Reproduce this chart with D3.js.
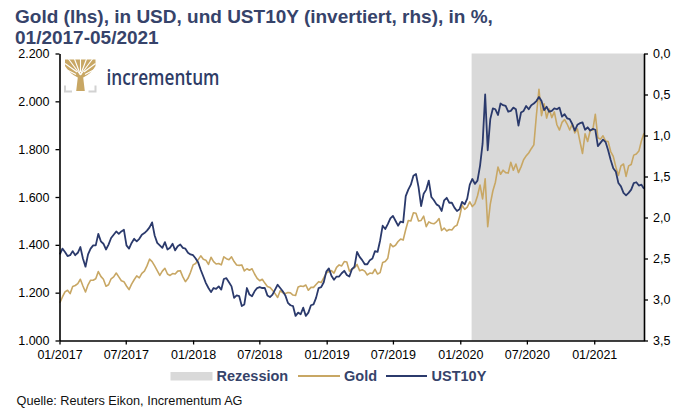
<!DOCTYPE html>
<html><head><meta charset="utf-8">
<script src="https://cdn.jsdelivr.net/npm/d3@7"></script>
<style>
html,body{margin:0;padding:0;background:#fff;}
svg{display:block;font-family:"Liberation Sans",Arial,Helvetica,sans-serif;}
</style>
</head><body>
<svg id="chart" width="687" height="412"></svg>
<script>
// ---------------- data ----------------
const titleLines = ["Gold (lhs), in USD, und UST10Y (invertiert, rhs), in %,", "01/2017-05/2021"];
const legendLabels = ["Rezession", "Gold", "UST10Y"];
const sourceText = "Quelle: Reuters Eikon, Incrementum AG";
const logoText = "incrementum";

const firstWeek = "2017-01-02";          // weekly observations (Mondays)
const xDomain = ["2017-01-01", "2021-05-17"];
const recession = ["2020-02-01", "2021-05-17"];
const xTicks = ["2017-01-01","2017-07-01","2018-01-01","2018-07-01","2019-01-01","2019-07-01","2020-01-01","2020-07-01","2021-01-01"];
const leftTicks = [1000, 1200, 1400, 1600, 1800, 2000, 2200];
const rightTicks = [0, 0.5, 1, 1.5, 2, 2.5, 3, 3.5];

// Gold, USD/oz, weekly
const gold2017 = [1158,1182,1203,1210,1196, 1226,1230,1238,1256, 1228,1203,1233,1252, 1252,1258,1288,1268,
  1256,1227,1233,1258,1266, 1282,1266,1250,1246, 1228,1213,1236,1254,1270, 1262,1281,1290,1312,
  1340,1330,1312,1292, 1272,1290,1302,1278,1272, 1280,1278,1290,1292, 1266,1246,1260,1285];
const gold2018 = [1316,1322,1338,1354,1340, 1336,1318,1348,1330, 1320,1322,1316,1350, 1342,1338,1350,1330,1316,
  1314,1316,1291,1300, 1294,1300,1278,1260, 1250,1256,1240,1226,1222, 1210,1196,1180,1208,
  1200,1196,1201,1199, 1190,1188,1224,1228,1226, 1232,1210,1222,1222, 1234,1246,1242,1262,1282];
const gold2019 = [1288,1292,1282,1306, 1316,1312,1330,1328, 1290,1298,1304,1318, 1292,1296,1290,1274,1282,
  1280,1298,1278,1284, 1326,1330,1344,1404, 1392,1398,1414,1424,1420, 1464,1502,1500,1534,
  1532,1500,1502,1520,1476, 1496,1490,1488,1496, 1510,1460,1470,1458, 1464,1462,1476,1482,1516];
const gold2020 = [1566,1548,1558,1580, 1560,1572,1604,1650, 1592,1676,1476,1570,1625, 1662,1725,1695,1712,
  1702,1700,1745,1712, 1738,1702,1726,1756,1772, 1784,1802,1818,1942, 2050,1940,1990,1930,1968,
  1932,1956,1902,1880, 1912,1924,1905,1880, 1905,1868,1885,1832,1782, 1864,1832,1878,1880];
const gold2021 = [1946,1848,1842,1856, 1834,1832,1790,1770, 1726,1690,1730,1738,1686, 1730,1736,1775,1780, 1792,1835,1866];

// UST 10Y yield, %, weekly
const ust2017 = [2.45,2.38,2.42,2.47,2.46, 2.41,2.46,2.43,2.36, 2.50,2.60,2.45,2.38, 2.34,2.34,2.20,2.29,
  2.32,2.39,2.33,2.25,2.21, 2.17,2.20,2.17,2.15, 2.34,2.38,2.31,2.26,2.29, 2.26,2.21,2.19,2.16,
  2.12,2.06,2.22,2.31, 2.34,2.37,2.30,2.39,2.37, 2.32,2.40,2.35,2.33, 2.37,2.38,2.43,2.45];
const ust2018 = [2.46,2.50,2.55,2.64,2.72, 2.80,2.86,2.91,2.86, 2.87,2.84,2.88,2.75, 2.74,2.79,2.84,2.98,2.95,
  2.96,3.08,3.06,2.86, 2.94,2.96,2.90,2.86, 2.85,2.86,2.86,2.95,2.97, 2.94,2.88,2.82,2.86,
  2.90,2.95,3.04,3.07, 3.08,3.20,3.16,3.18,3.10, 3.20,3.16,3.07,3.06, 2.98,2.86,2.85,2.79,2.66];
const ust2019 = [2.62,2.71,2.76,2.72, 2.72,2.68,2.65,2.70, 2.72,2.63,2.60,2.42, 2.48,2.52,2.57,2.57,2.52,
  2.50,2.41,2.42,2.28, 2.10,2.14,2.08,2.01, 1.98,2.04,2.10,2.05,2.06, 1.74,1.66,1.60,1.49,
  1.47,1.63,1.86,1.71,1.66, 1.55,1.75,1.79,1.84, 1.86,1.92,1.79,1.76, 1.82,1.82,1.88,1.92,1.90];
const ust2020 = [1.81,1.84,1.77,1.60, 1.53,1.59,1.55,1.37, 1.10,0.50,1.18,0.80,0.67, 0.68,0.75,0.61,0.63,
  0.64,0.71,0.70,0.66, 0.68,0.88,0.72,0.70,0.64, 0.68,0.63,0.61,0.58, 0.53,0.58,0.69,0.65,0.71,
  0.70,0.67,0.68,0.66, 0.77,0.74,0.79,0.80, 0.86,0.94,0.87,0.85,0.84, 0.93,0.90,0.94,0.92];
const ust2021 = [0.93,1.13,1.09,1.05, 1.08,1.18,1.30,1.40, 1.44,1.58,1.62,1.70,1.73, 1.70,1.66,1.58,1.57, 1.61,1.60,1.65];

// ---------------- drawing ----------------
const parse = d3.utcParse("%Y-%m-%d");
const goldValues = [].concat(gold2017, gold2018, gold2019, gold2020, gold2021);
const ustValues = [].concat(ust2017, ust2018, ust2019, ust2020, ust2021);
const start = parse(firstWeek);
const dates = goldValues.map((_, i) => d3.utcDay.offset(start, 7 * i));

const colGold = "#c8a764", colNavy = "#2b3a6c", colGrey = "#d9d9d9", colText = "#36436a";
const L = 59.5, R = 644, T = 53.5, B = 340.5;

const x = d3.scaleUtc().domain(xDomain.map(parse)).range([L, R]);
const yL = d3.scaleLinear().domain([1000, 2200]).range([B, T]);
const yR = d3.scaleLinear().domain([0, 3.5]).range([T, B]);

const de = d3.formatLocale({decimal: ",", thousands: ".", grouping: [3], currency: ["", "€"]});
const fmtL = de.format(",");
const fmtR = de.format(".1f");
const fmtX = d3.utcFormat("%m/%Y");

const svg = d3.select("#chart");
svg.append("rect").attr("width", 687).attr("height", 412).attr("fill", "#fff");

// title
svg.append("g").selectAll("text").data(titleLines).join("text")
  .attr("x", 15).attr("y", (d, i) => 23.3 + i * 21)
  .attr("fill", colText).attr("font-weight", "bold").attr("font-size", "19px").text(d => d);

// recession shading
svg.append("rect")
  .attr("x", x(parse(recession[0]))).attr("y", T)
  .attr("width", x(parse(recession[1])) - x(parse(recession[0]))).attr("height", B - T)
  .attr("fill", colGrey);

// logo
const logo = svg.append("g");
logo.append("path")
  .attr("d", "M65,59.5 H95.5 V66 Q91,74 83.2,77.5 L84.8,91 H76.2 L77.8,77.5 Q70,74 65,66 Z")
  .attr("fill", colGold);
[[80.5,75,68.5,59],[80.5,75,74.5,59],[80.5,75,86.5,59],[80.5,75,92.5,59],
 [77,72,65,63.5],[84,72,95.5,63.5],[76,74.5,65,69],[85,74.5,95.5,69],[80.5,72,80.5,59]].forEach(p => {
  logo.append("path").attr("d", `M${p[0]},${p[1]} L${p[2]},${p[3]}`)
    .attr("stroke", "#fff").attr("stroke-width", 1.1);
});
logo.append("path").attr("d", "M65,85.5 V91.5 H72").attr("fill", "none").attr("stroke", "#d2d2d2").attr("stroke-width", 2);
logo.append("path").attr("d", "M95.5,85.5 V91.5 H88.5").attr("fill", "none").attr("stroke", "#d2d2d2").attr("stroke-width", 2);
logo.append("text").attr("x", 106.5).attr("y", 84.5).attr("font-size", "21px").attr("fill", "#2e3c66")
  .attr("font-family", '"Open Sans","Liberation Sans",Arial,sans-serif').attr("font-weight", 600)
  .attr("textLength", 113).attr("lengthAdjust", "spacingAndGlyphs").text(logoText);

// lines
const lineGold = d3.line().x((d, i) => x(dates[i])).y(d => yL(d));
const lineUst = d3.line().x((d, i) => x(dates[i])).y(d => yR(d));
svg.append("path").datum(goldValues).attr("d", lineGold).attr("fill", "none")
  .attr("stroke", colGold).attr("stroke-width", 1.6).attr("stroke-linejoin", "round");
svg.append("path").datum(ustValues).attr("d", lineUst).attr("fill", "none")
  .attr("stroke", colNavy).attr("stroke-width", 1.8).attr("stroke-linejoin", "round");

// axes
function styleAxis(g) {
  g.select(".domain").attr("stroke", "#000").attr("stroke-width", 1.6);
  g.selectAll(".tick line").attr("stroke", "#000").attr("stroke-width", 1.3);
  g.selectAll(".tick text").attr("fill", "#000").attr("font-size", "12.5px")
    .attr("font-family", '"Liberation Sans",Arial,sans-serif');
}
svg.append("g").attr("transform", `translate(${L},0)`)
  .call(d3.axisLeft(yL).tickValues(leftTicks).tickSize(4).tickSizeOuter(0).tickPadding(6).tickFormat(fmtL))
  .call(styleAxis);
svg.append("g").attr("transform", `translate(${R},0)`)
  .call(d3.axisRight(yR).tickValues(rightTicks).tickSize(4).tickSizeOuter(0).tickPadding(5).tickFormat(fmtR))
  .call(styleAxis);
svg.append("g").attr("transform", `translate(0,${B})`)
  .call(d3.axisBottom(x).tickValues(xTicks.map(parse)).tickSize(4).tickSizeOuter(0).tickPadding(6).tickFormat(fmtX))
  .call(styleAxis);

// legend
const lg = svg.append("g").attr("font-weight", "bold").attr("font-size", "14.5px").attr("fill", colText);
lg.append("rect").attr("x", 170.5).attr("y", 372).attr("width", 42).attr("height", 8.5).attr("fill", colGrey);
lg.append("text").attr("x", 216.5).attr("y", 381).text(legendLabels[0]);
lg.append("line").attr("x1", 298).attr("x2", 340).attr("y1", 376).attr("y2", 376).attr("stroke", colGold).attr("stroke-width", 2);
lg.append("text").attr("x", 344).attr("y", 381).text(legendLabels[1]);
lg.append("line").attr("x1", 386).attr("x2", 427).attr("y1", 376).attr("y2", 376).attr("stroke", colNavy).attr("stroke-width", 2);
lg.append("text").attr("x", 431.5).attr("y", 381).text(legendLabels[2]);

// source
svg.append("text").attr("x", 16.5).attr("y", 405).attr("font-size", "13px").attr("fill", "#111")
  .attr("font-family", '"Liberation Sans Narrow","Liberation Sans",Arial,sans-serif')
  .attr("textLength", 226).attr("lengthAdjust", "spacingAndGlyphs").text(sourceText);
</script>
</body></html>
